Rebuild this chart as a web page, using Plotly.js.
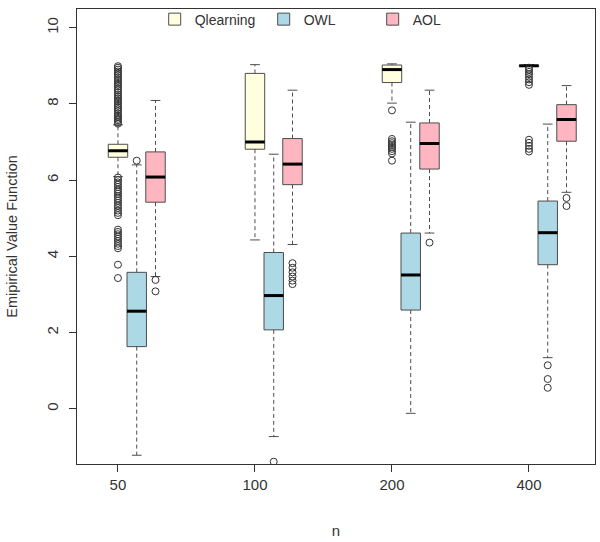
<!DOCTYPE html>
<html><head><meta charset="utf-8">
<script src="https://cdn.plot.ly/plotly-3.0.1.min.js"></script>
<style>html,body{margin:0;padding:0;background:#fff}#chart{width:600px;height:542px}</style>
</head><body><div id="chart"></div>
<script>
// ---------- data ----------
const categories = ['50', '100', '200', '400'];
const seriesNames = ['Qlearning', 'OWL', 'AOL'];

const qlQ1     = [6.60, 6.81, 8.56, 8.99];
const qlMedian = [6.77, 7.00, 8.90, 9.00];
const qlQ3     = [6.94, 8.80, 9.02, 9.01];
const qlLow    = [6.09, 4.43, 8.02, 8.98];
const qlHigh   = [7.45, 9.03, 9.05, 9.03];
const qlOut50  = [7.48, 7.52, 7.57, 7.61, 7.66, 7.70, 7.75, 7.81, 7.86, 7.90, 7.95, 8.00, 8.06, 8.10, 8.15, 8.20,
                  8.25, 8.30, 8.36, 8.40, 8.46, 8.50, 8.55, 8.60, 8.65, 8.70, 8.76, 8.80, 8.85, 8.90, 8.95, 8.99,
                  6.07, 6.00, 5.94, 5.88, 5.82, 5.75, 5.70, 5.64, 5.58, 5.52, 5.46, 5.40, 5.33, 5.27, 5.20, 5.14, 5.08,
                  4.70, 4.64, 4.58, 4.52, 4.46, 4.40, 4.33, 4.27, 4.21, 3.78, 3.43];
const qlOut100 = [];
const qlOut200 = [7.83, 7.08, 7.02, 6.97, 6.92, 6.87, 6.82, 6.76, 6.70, 6.51];
const qlOut400 = [8.95, 8.90, 8.84, 8.78, 8.71, 8.64, 8.57, 8.50, 7.06, 6.98, 6.90, 6.82, 6.75];

const owlQ1     = [1.63, 2.07, 2.59, 3.78];
const owlMedian = [2.56, 2.97, 3.51, 4.62];
const owlQ3     = [3.58, 4.10, 4.61, 5.45];
const owlLow    = [-1.22, -0.73, -0.12, 1.34];
const owlHigh   = [6.40, 6.68, 7.52, 7.47];
const owlOut50  = [6.51];
const owlOut100 = [-1.39];
const owlOut200 = [];
const owlOut400 = [1.14, 0.78, 0.55];

const aolQ1     = [5.42, 5.88, 6.29, 7.02];
const aolMedian = [6.08, 6.42, 6.96, 7.59];
const aolQ3     = [6.74, 7.09, 7.50, 7.98];
const aolLow    = [3.47, 4.31, 4.61, 5.68];
const aolHigh   = [8.09, 8.36, 8.36, 8.48];
const aolOut50  = [3.38, 3.08];
const aolOut100 = [3.82, 3.70, 3.58, 3.47, 3.36, 3.27];
const aolOut200 = [4.36];
const aolOut400 = [5.53, 5.32];

// ---------- styling / layout constants ----------
const fills = ['#FFFFE0', '#ADD8E6', '#FFB6C1'];
const offsets = [0, 0.137, 0.274];
const boxW = 0.142;
const edge = '#4d4d4d';

const stats = [
  {q1: qlQ1, med: qlMedian, q3: qlQ3, lo: qlLow, hi: qlHigh, out: [qlOut50, qlOut100, qlOut200, qlOut400]},
  {q1: owlQ1, med: owlMedian, q3: owlQ3, lo: owlLow, hi: owlHigh, out: [owlOut50, owlOut100, owlOut200, owlOut400]},
  {q1: aolQ1, med: aolMedian, q3: aolQ3, lo: aolLow, hi: aolHigh, out: [aolOut50, aolOut100, aolOut200, aolOut400]}
];

const boxes = [], overlays = [];
stats.forEach((st, s) => {
  const pos = categories.map((c, i) => i + 1 + offsets[s]);
  boxes.push({
    type: 'box', name: seriesNames[s], x: pos,
    q1: st.q1, median: st.med, q3: st.q3, lowerfence: st.q1, upperfence: st.q3,
    width: boxW, whiskerwidth: 0, boxpoints: false,
    fillcolor: fills[s], line: {color: edge, width: 1}, hoverinfo: 'skip'
  });
  const wx = [], wy = [], sx = [], sy = [], mx = [], my = [], ox = [], oy = [];
  pos.forEach((p, i) => {
    wx.push(p, p, null, p, p, null);
    wy.push(st.q3[i], st.hi[i], null, st.q1[i], st.lo[i], null);
    sx.push(p - boxW / 4, p + boxW / 4, null, p - boxW / 4, p + boxW / 4, null);
    sy.push(st.hi[i], st.hi[i], null, st.lo[i], st.lo[i], null);
    mx.push(p - boxW / 2, p + boxW / 2, null);
    my.push(st.med[i], st.med[i], null);
    st.out[i].forEach(v => { ox.push(p); oy.push(v); });
  });
  overlays.push({type: 'scatter', mode: 'lines', x: wx, y: wy, showlegend: false, hoverinfo: 'skip',
    line: {color: edge, width: 1, dash: '4px,3px'}});
  overlays.push({type: 'scatter', mode: 'lines', x: sx, y: sy, showlegend: false, hoverinfo: 'skip',
    line: {color: edge, width: 1}});
  overlays.push({type: 'scatter', mode: 'lines', x: mx, y: my, showlegend: false, hoverinfo: 'skip',
    line: {color: '#000', width: 3}});
  overlays.push({type: 'scatter', mode: 'markers', x: ox, y: oy, showlegend: false, hoverinfo: 'skip',
    marker: {symbol: 'circle-open', size: 7, color: '#333', line: {width: 1}}});
});

const axisCommon = {
  showline: true, mirror: true, linecolor: '#333', linewidth: 1,
  ticks: 'outside', ticklen: 7, tickcolor: '#333', tickwidth: 1,
  showgrid: false, zeroline: false, fixedrange: true
};

const layout = {
  width: 600, height: 542,
  margin: {l: 77, r: 5, t: 4, b: 78},
  paper_bgcolor: '#fff', plot_bgcolor: '#fff',
  font: {family: 'Liberation Sans, Arial, sans-serif', size: 15, color: '#333'},
  boxmode: 'overlay',
  showlegend: true,
  legend: {orientation: 'h', x: 0.15, xanchor: 'left', y: 1.012, yanchor: 'top',
    bgcolor: 'rgba(0,0,0,0)', font: {size: 14, color: '#333'}, itemwidth: 30, entrywidth: 64},
  xaxis: Object.assign({}, axisCommon, {
    range: [0.701, 4.482], tickmode: 'array', tickvals: [1, 2, 3, 4], ticktext: categories,
    title: {text: 'n', font: {size: 15, color: '#333'}, standoff: 33}
  }),
  yaxis: Object.assign({}, axisCommon, {
    range: [-1.45, 10.49], tickmode: 'array', tickvals: [0, 2, 4, 6, 8, 10], tickangle: -90,
    ticklabelstandoff: 5,
    title: {text: 'Emipirical Value Function', font: {size: 14.5, color: '#333'}, standoff: 22}
  })
};

Plotly.newPlot('chart', boxes.concat(overlays), layout, {displayModeBar: false, staticPlot: true});
</script>
</body></html>
